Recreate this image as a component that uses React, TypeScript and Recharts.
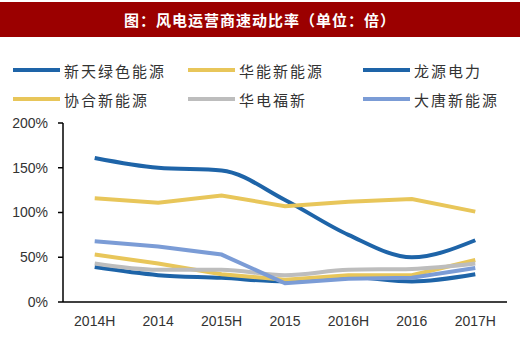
import { LineChart, Line, XAxis, YAxis } from "recharts";

const categories = ["2014H", "2014", "2015H", "2015", "2016H", "2016", "2017H"];
const xintian = [161, 150, 147, 114, 75, 50, 69];
const huaneng = [116, 111, 119, 107, 112, 115, 101];
const longyuan = [39, 30, 27, 23, 28, 23, 31];
const xiehe = [53, 43, 31, 25, 30, 30, 47];
const huadian = [43, 36, 36, 30, 36, 37, 43];
const datang = [68, 62, 53, 21, 26, 27, 38];
const yTicks = [0, 50, 100, 150, 200];

const BLUE = "#1e64a8";
const YELLOW = "#e8c65a";
const GRAY = "#bdbdbd";
const LIGHT = "#7b9cd6";

const series = [
  { key: "xintian", name: "新天绿色能源", color: BLUE, type: "monotone" as const },
  { key: "huaneng", name: "华能新能源", color: YELLOW, type: "linear" as const },
  { key: "longyuan", name: "龙源电力", color: BLUE, type: "monotone" as const },
  { key: "xiehe", name: "协合新能源", color: YELLOW, type: "linear" as const },
  { key: "huadian", name: "华电福新", color: GRAY, type: "monotone" as const },
  { key: "datang", name: "大唐新能源", color: LIGHT, type: "linear" as const },
];

const data = categories.map((c, i) => ({
  x: i + 0.5,
  cat: c,
  xintian: xintian[i],
  huaneng: huaneng[i],
  longyuan: longyuan[i],
  xiehe: xiehe[i],
  huadian: huadian[i],
  datang: datang[i],
}));

const cjk = '"Noto Sans CJK SC", "Noto Sans", sans-serif';
const tickFont = { fill: "#333", fontSize: 14, fontFamily: '"Liberation Sans", Arial, sans-serif' };

export default function App() {
  return (
    <div style={{ position: "absolute", left: 0, top: 0, width: 520, height: 352, background: "#fff" }}>
      <div
        style={{
          position: "absolute",
          left: 0,
          top: 2,
          width: 520,
          height: 35,
          background: "#9b0000",
          color: "#fff",
          fontFamily: cjk,
          fontWeight: 700,
          fontSize: 15,
          lineHeight: "35px",
          textAlign: "center",
          letterSpacing: 1,
        }}
      >
        图：风电运营商速动比率（单位：倍）
      </div>
      {series.map((s, i) => {
        const col = i % 3;
        const row = Math.floor(i / 3);
        return (
          <div
            key={s.key}
            style={{
              position: "absolute",
              left: 13 + col * 175,
              top: 58 + row * 29,
              display: "flex",
              alignItems: "center",
              fontFamily: cjk,
              fontSize: 15,
              letterSpacing: 2,
              color: "#333",
              height: 24,
            }}
          >
            <span style={{ display: "inline-block", width: 47, height: 4, background: s.color, marginRight: 4 }} />
            {s.name}
          </div>
        );
      })}
      <LineChart
        width={520}
        height={352}
        data={data}
        margin={{ top: 123, right: 13, bottom: 20, left: 0 }}
        style={{ position: "absolute", left: 0, top: 0 }}
      >
        <XAxis
          xAxisId="edge"
          type="number"
          domain={[0, 7]}
          ticks={[0, 1, 2, 3, 4, 5, 6, 7]}
          tickFormatter={() => ""}
          height={0}
          axisLine={false}
          tickLine={{ stroke: "#000", strokeWidth: 1.5 }}
          tickSize={7}
        />
        <XAxis
          dataKey="x"
          type="number"
          domain={[0, 7]}
          ticks={data.map((d) => d.x)}
          tickFormatter={(v: number) => categories[Math.floor(v)]}
          height={30}
          axisLine={{ stroke: "#000", strokeWidth: 1.5 }}
          tickLine={false}
          tickSize={6}
          tickMargin={8}
          tick={tickFont}
        />
        <YAxis
          width={63}
          domain={[0, 200]}
          ticks={yTicks}
          tickFormatter={(v: number) => `${v}%`}
          axisLine={{ stroke: "#000", strokeWidth: 1.5 }}
          tickLine={{ stroke: "#000", strokeWidth: 1.5 }}
          tickSize={5}
          tickMargin={10}
          tick={tickFont}
        />
        {series.map((s) => (
          <Line
            key={s.key}
            type={s.type}
            dataKey={s.key}
            stroke={s.color}
            strokeWidth={4}
            dot={false}
            activeDot={false}
            isAnimationActive={false}
          />
        ))}
      </LineChart>
    </div>
  );
}
